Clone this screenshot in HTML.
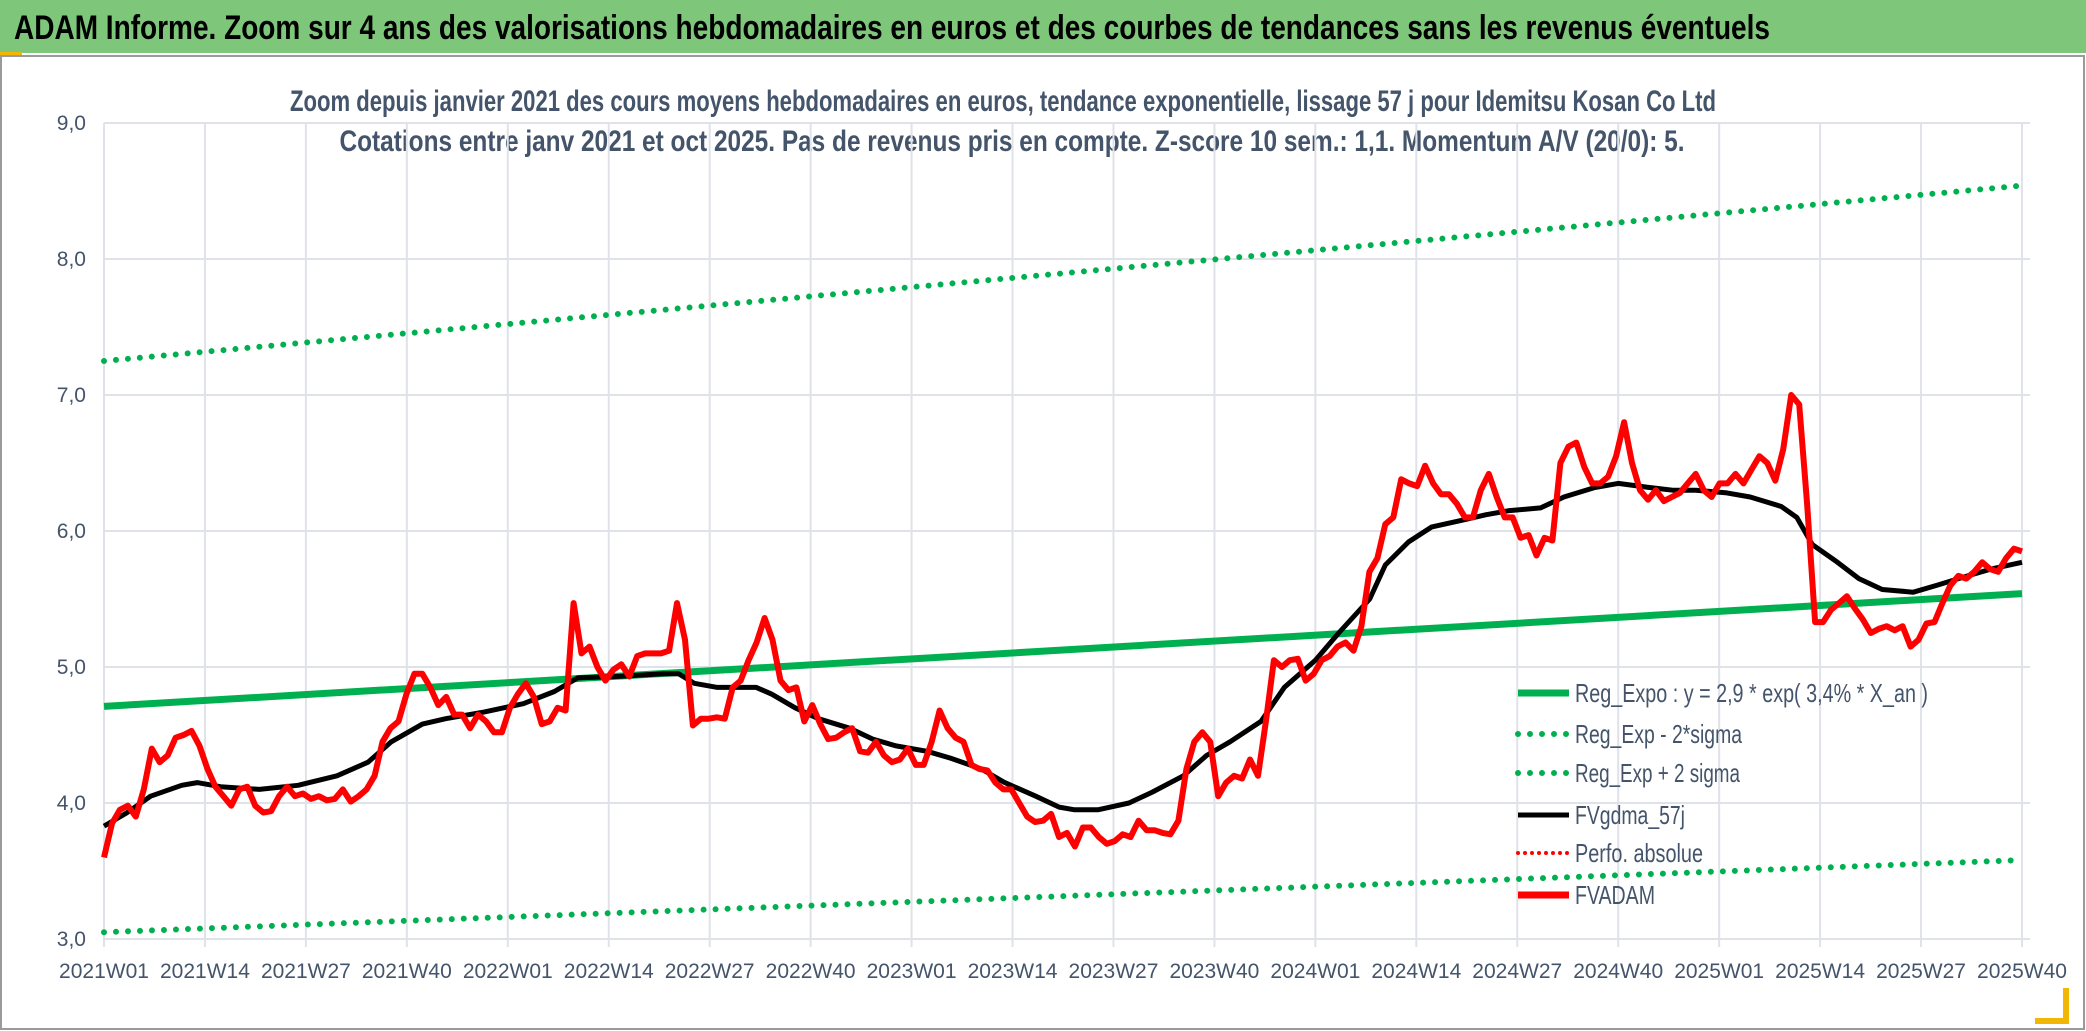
<!DOCTYPE html>
<html><head><meta charset="utf-8"><style>
html,body{margin:0;padding:0;background:#fff;}
svg{display:block;}
</style></head><body>
<svg id="chart" width="2086" height="1031" viewBox="0 0 2086 1031" xmlns="http://www.w3.org/2000/svg">
<rect x="0" y="0" width="2086" height="1031" fill="#fff"/>
<rect x="0" y="0" width="2086" height="53" fill="#7dc67a"/>
<rect x="0" y="52" width="22" height="3" fill="#f2b705"/>
<rect x="1" y="56" width="2083" height="973" fill="none" stroke="#9a9a9a" stroke-width="2"/>
<rect x="2063" y="988" width="6" height="36" fill="#f2b705"/>
<rect x="2035" y="1018" width="34" height="6" fill="#f2b705"/>
<text x="14" y="39" font-family="'Liberation Sans Narrow','Liberation Sans',sans-serif" font-weight="bold" font-size="34" fill="#000" textLength="1756" lengthAdjust="spacingAndGlyphs">ADAM Informe. Zoom sur 4 ans des valorisations hebdomadaires en euros et des courbes de tendances sans les revenus éventuels</text>
<text x="1003" y="111" text-anchor="middle" font-family="'Liberation Sans Narrow','Liberation Sans',sans-serif" font-weight="bold" font-size="30" fill="#44546a" textLength="1426" lengthAdjust="spacingAndGlyphs">Zoom depuis janvier 2021 des cours moyens hebdomadaires en euros, tendance exponentielle, lissage 57 j pour Idemitsu Kosan Co Ltd</text>
<text x="1012" y="151" text-anchor="middle" font-family="'Liberation Sans Narrow','Liberation Sans',sans-serif" font-weight="bold" font-size="30" fill="#44546a" textLength="1345" lengthAdjust="spacingAndGlyphs">Cotations entre janv 2021 et oct 2025. Pas de revenus pris en compte. Z-score 10 sem.: 1,1. Momentum A/V (20/0): 5.</text>
<g id="grid"></g>
<g id="series"></g>
<g id="legend"></g>
</svg>
<script>
const yTicks = [3,4,5,6,7,8,9];
const yTickLabels = ["3,0","4,0","5,0","6,0","7,0","8,0","9,0"];
const xTickLabels = ["2021W01","2021W14","2021W27","2021W40","2022W01","2022W14","2022W27","2022W40","2023W01","2023W14","2023W27","2023W40","2024W01","2024W14","2024W27","2024W40","2025W01","2025W14","2025W27","2025W40"];
const trendWeeks = [0,247];
const trendVals = [4.71,5.54];
const lowerVals = [3.05,3.58];
const upperVals = [7.25,8.54];
const maWeeks = [0,3,6,10,12,15,20,25,30,34,37,41,44,49,54,58,61,66,72,74,76,79,84,86,89,92,96,99,102,106,109,113,116,120,123,125,128,132,135,139,142,145,149,152,156,159,163,165,168,171,175,178,181,185,188,192,195,199,202,205,209,212,216,218,220,223,226,229,233,236,240,243,247];
const maVals = [3.83,3.93,4.05,4.13,4.15,4.12,4.1,4.13,4.2,4.3,4.45,4.58,4.62,4.67,4.73,4.82,4.92,4.93,4.95,4.95,4.88,4.85,4.85,4.8,4.7,4.62,4.55,4.47,4.42,4.38,4.33,4.25,4.15,4.05,3.97,3.95,3.95,4.0,4.08,4.2,4.35,4.45,4.6,4.85,5.05,5.25,5.5,5.75,5.92,6.03,6.08,6.12,6.15,6.17,6.25,6.32,6.35,6.32,6.3,6.3,6.28,6.25,6.18,6.1,5.9,5.78,5.65,5.57,5.55,5.6,5.67,5.72,5.77];
const priceVals = [3.6,3.85,3.95,3.98,3.9,4.1,4.4,4.3,4.35,4.48,4.5,4.53,4.42,4.25,4.12,4.05,3.98,4.1,4.12,3.98,3.93,3.94,4.05,4.12,4.05,4.07,4.03,4.05,4.02,4.03,4.1,4.01,4.05,4.1,4.2,4.45,4.55,4.6,4.8,4.95,4.95,4.85,4.72,4.78,4.65,4.65,4.55,4.65,4.6,4.52,4.52,4.7,4.8,4.88,4.78,4.58,4.6,4.7,4.68,5.47,5.1,5.15,5.0,4.9,4.98,5.02,4.93,5.08,5.1,5.1,5.1,5.12,5.47,5.2,4.57,4.62,4.62,4.63,4.62,4.85,4.9,5.05,5.18,5.36,5.2,4.9,4.83,4.85,4.6,4.72,4.58,4.47,4.48,4.52,4.55,4.38,4.37,4.45,4.35,4.3,4.32,4.4,4.28,4.28,4.45,4.68,4.55,4.48,4.45,4.28,4.25,4.24,4.15,4.1,4.1,4.0,3.9,3.86,3.87,3.92,3.75,3.78,3.68,3.82,3.82,3.75,3.7,3.72,3.77,3.75,3.87,3.8,3.8,3.78,3.77,3.87,4.25,4.45,4.52,4.45,4.05,4.15,4.2,4.18,4.32,4.2,4.6,5.05,5.0,5.05,5.06,4.9,4.95,5.05,5.08,5.15,5.18,5.12,5.3,5.7,5.8,6.05,6.1,6.38,6.35,6.33,6.48,6.35,6.27,6.27,6.2,6.1,6.1,6.3,6.42,6.25,6.1,6.1,5.95,5.97,5.82,5.95,5.93,6.5,6.62,6.65,6.47,6.35,6.35,6.4,6.55,6.8,6.5,6.3,6.23,6.3,6.22,6.25,6.28,6.35,6.42,6.3,6.25,6.35,6.35,6.42,6.35,6.45,6.55,6.5,6.37,6.6,7.0,6.93,6.2,5.33,5.33,5.42,5.47,5.52,5.43,5.35,5.25,5.28,5.3,5.27,5.3,5.15,5.2,5.32,5.33,5.47,5.6,5.67,5.65,5.7,5.77,5.72,5.7,5.8,5.87,5.85];
const legendLabels = ["Reg_Expo : y = 2,9 * exp( 3,4% *  X_an )","Reg_Exp - 2*sigma","Reg_Exp + 2 sigma","FVgdma_57j","Perfo. absolue","FVADAM"];
const legendTextWidths = [353,167,165,110,128,80];

const NS="http://www.w3.org/2000/svg";
const X0=104,X1=2022,Y3=939,Y9=123,WEEKS=247;
function xs(w){return X0+(X1-X0)*w/WEEKS;}
function ys(v){return Y3-(v-3)*(Y3-Y9)/6;}
function mk(tag,attrs,parent){const e=document.createElementNS(NS,tag);for(const k in attrs)e.setAttribute(k,attrs[k]);parent.appendChild(e);return e;}
const grid=document.getElementById('grid'),ser=document.getElementById('series'),leg=document.getElementById('legend');
const FONT="'Liberation Sans Narrow','Liberation Sans',sans-serif";
yTicks.forEach((t,i)=>{
  const l=mk('line',{x1:X0,x2:X1+8,y1:ys(t),y2:ys(t),stroke:'#dfe2e8','stroke-width':2},grid);
  
  
  const tx=mk('text',{x:86,y:ys(t)+7,'text-anchor':'end','font-family':FONT,'font-size':21,fill:'#44546a'},grid);
  tx.textContent=yTickLabels[i];
  
  
});
xTickLabels.forEach((lab,i)=>{
  const x=xs(i*13);
  const l=mk('line',{x1:x,x2:x,y1:Y9,y2:Y3+8,stroke:'#dfe2e8','stroke-width':2},grid);
  
  
  const tx=mk('text',{x:x,y:Y3+39,'text-anchor':'middle','font-family':FONT,'font-size':21,fill:'#44546a'},grid);
  tx.textContent=lab;
  
  
});
function pathFrom(ws,vs){return ws.map((w,i)=>(i?'L':'M')+xs(w).toFixed(1)+','+ys(vs[i]).toFixed(1)).join(' ');}
const dotted={'stroke-dasharray':'0 12','stroke-linecap':'round'};
let p=mk('path',Object.assign({d:pathFrom(trendWeeks,upperVals),fill:'none',stroke:'#00b050','stroke-width':6},dotted),ser);


p=mk('path',Object.assign({d:pathFrom(trendWeeks,lowerVals),fill:'none',stroke:'#00b050','stroke-width':6},dotted),ser);


p=mk('path',{d:pathFrom(trendWeeks,trendVals),fill:'none',stroke:'#00b050','stroke-width':7},ser);


p=mk('path',{d:pathFrom(maWeeks,maVals),fill:'none',stroke:'#000','stroke-width':5,'stroke-linejoin':'round'},ser);


const pw=priceVals.map((v,i)=>i*WEEKS/(priceVals.length-1));
p=mk('path',{d:pathFrom(pw,priceVals),fill:'none',stroke:'#ff0000','stroke-width':6,'stroke-linejoin':'round'},ser);


// legend
const rowY=[693,734,773,815,853,895];
const styles=[{stroke:'#00b050','stroke-width':7},Object.assign({stroke:'#00b050','stroke-width':6},dotted),Object.assign({stroke:'#00b050','stroke-width':6},dotted),{stroke:'#000','stroke-width':5},{stroke:'#ff0000','stroke-width':4,'stroke-dasharray':'0 7','stroke-linecap':'round'},{stroke:'#ff0000','stroke-width':7}];
legendLabels.forEach((lab,i)=>{
  const g=mk('g',{},leg);
  
  
  mk('line',Object.assign({x1:1518,x2:1569,y1:rowY[i],y2:rowY[i]},styles[i]),g);
  const t=mk('text',{x:1575,y:rowY[i]+9,'font-family':FONT,'font-size':26,fill:'#44546a',textLength:legendTextWidths[i],lengthAdjust:'spacingAndGlyphs'},g);
  t.textContent=lab;
});
</script>
</body></html>
